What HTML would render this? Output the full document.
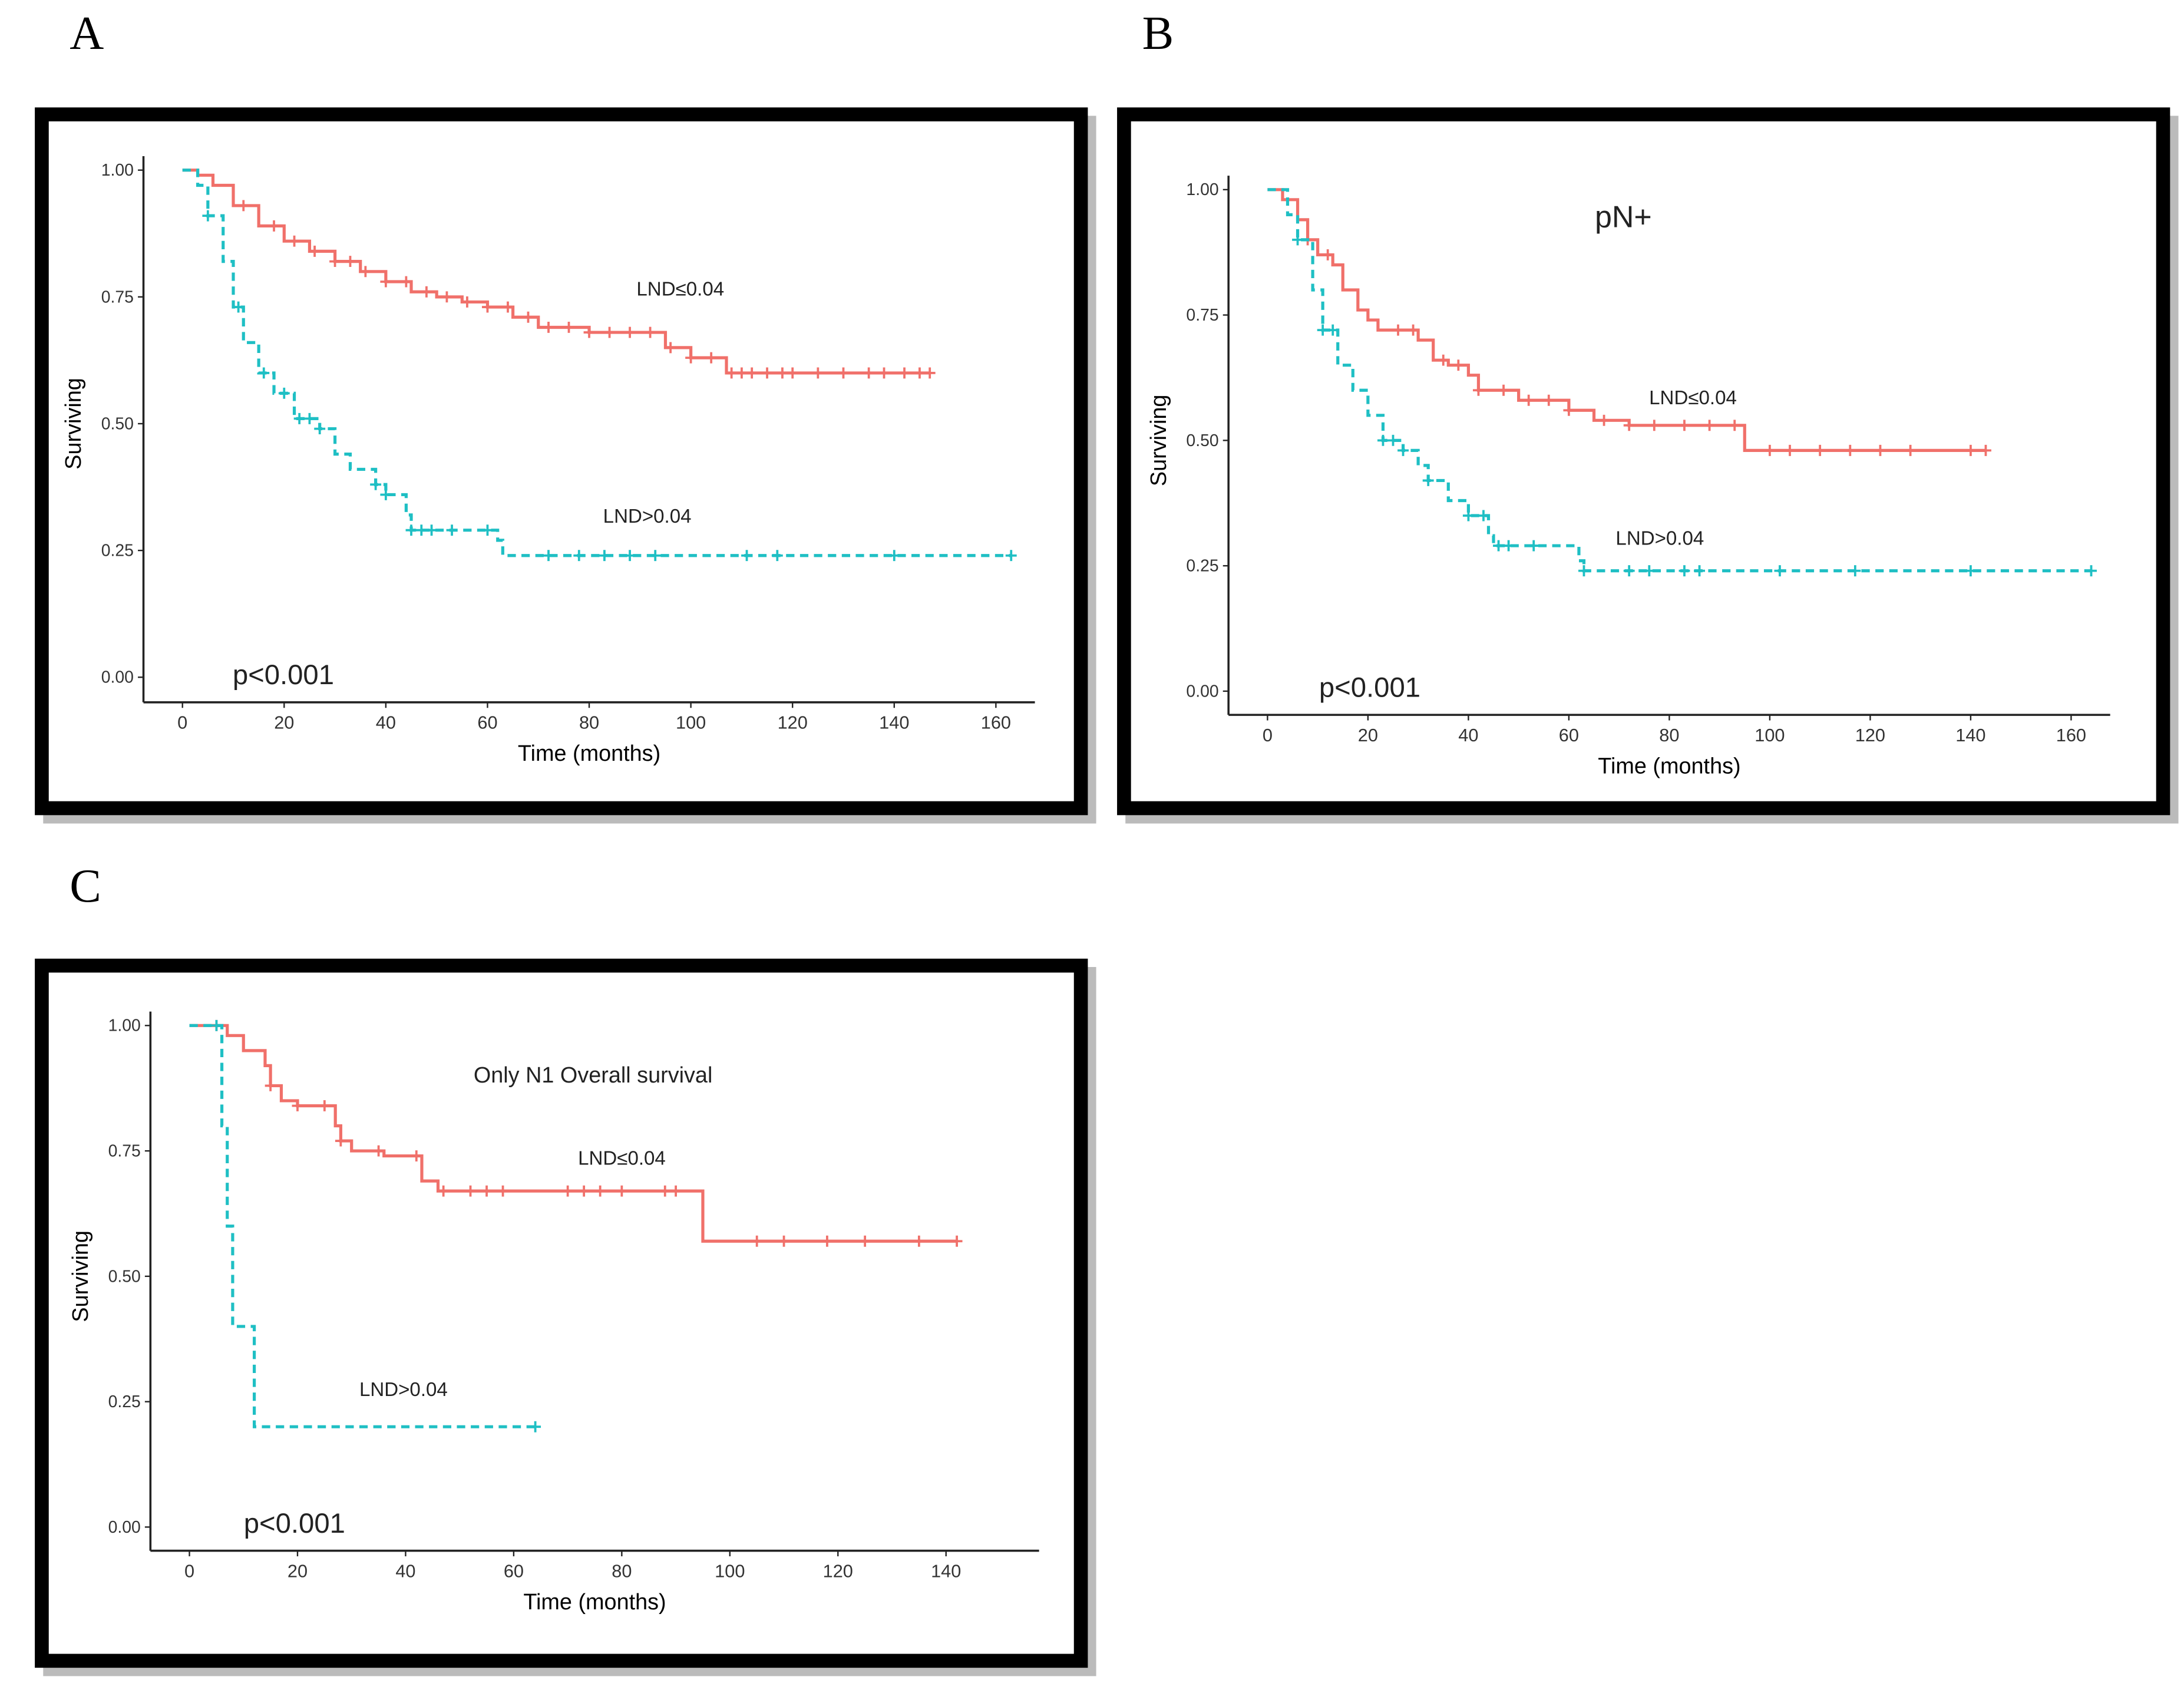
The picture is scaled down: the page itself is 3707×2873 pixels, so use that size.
<!DOCTYPE html>
<html><head><meta charset="utf-8"><style>
html,body{margin:0;padding:0;background:#fff;}
svg{display:block;}
text{font-family:"Liberation Sans",sans-serif;}
text.serif{font-family:"Liberation Serif",serif;}
</style></head><body>
<svg id="fig" width="3707" height="2873" viewBox="0 0 1568 1215" xmlns="http://www.w3.org/2000/svg">
<rect x="0" y="0" width="1568" height="1215" fill="#fff"/>
<text class="serif" x="50" y="35" font-size="34" style="font-family:'Liberation Serif',serif">A</text>
<text class="serif" x="820" y="35" font-size="34" style="font-family:'Liberation Serif',serif">B</text>
<text class="serif" x="50" y="647" font-size="34" style="font-family:'Liberation Serif',serif">C</text>
<g id="panels"></g>
</svg>
<script>
// Panel A data
const aRedT=[0,3,6,10,15,20,25,30,35,40,45,50,55,60,65,70,80,90,95,100,107,147];
const aRedS=[1,0.99,0.97,0.93,0.89,0.86,0.84,0.82,0.80,0.78,0.76,0.75,0.74,0.73,0.71,0.69,0.68,0.68,0.65,0.63,0.60,0.60];
const aRedC=[12,18,22,26,30,33,36,40,44,48,52,56,60,64,68,72,76,80,84,88,92,96,100,104,108,110,112,115,118,120,125,130,135,138,142,145,147];
const aCyT=[0,3,5,8,10,12,15,18,22,27,30,33,38,40,44,45,62,63,163];
const aCyS=[1,0.97,0.91,0.82,0.73,0.66,0.60,0.56,0.51,0.49,0.44,0.41,0.38,0.36,0.32,0.29,0.27,0.24,0.24];
const aCyC=[5,11,16,20,23,25,27,38,40,45,47,49,53,60,72,78,83,88,93,111,117,140,163];
// Panel B data
const bRedT=[0,3,6,8,10,13,15,18,20,22,30,33,36,40,42,50,60,65,72,95,143];
const bRedS=[1,0.98,0.94,0.90,0.87,0.85,0.80,0.76,0.74,0.72,0.70,0.66,0.65,0.63,0.60,0.58,0.56,0.54,0.53,0.48,0.48];
const bRedC=[8,12,26,29,35,38,42,47,52,56,60,67,72,77,83,88,93,100,104,110,116,122,128,140,143];
const bCyT=[0,4,6,9,11,14,17,20,23,27,30,32,36,40,44,45,62,63,164];
const bCyS=[1,0.95,0.90,0.80,0.72,0.65,0.60,0.55,0.50,0.48,0.45,0.42,0.38,0.35,0.31,0.29,0.26,0.24,0.24];
const bCyC=[6,11,13,23,25,27,32,40,43,46,48,53,63,72,76,83,86,102,117,140,164];
// Panel C data
const cRedT=[0,7,10,14,15,17,20,27,28,30,36,43,46,95,142];
const cRedS=[1,0.98,0.95,0.92,0.88,0.85,0.84,0.80,0.77,0.75,0.74,0.69,0.67,0.57,0.57];
const cRedC=[5,15,20,25,28,35,42,47,52,55,58,70,73,76,80,88,90,105,110,118,125,135,142];
const cCyT=[0,5,6,7,8,12,64];
const cCyS=[1,1,0.8,0.6,0.4,0.2,0.2];
const cCyC=[5,64];
const xTicksAB=[0,20,40,60,80,100,120,140,160];
const xTicksC=[0,20,40,60,80,100,120,140];
const yTicks=[0,0.25,0.5,0.75,1];

const NS="http://www.w3.org/2000/svg";
const root=document.getElementById('panels');
function el(tag,attrs,parent,txt){const e=document.createElementNS(NS,tag);for(const k in attrs)e.setAttribute(k,attrs[k]);if(txt!==undefined)e.textContent=txt;(parent||root).appendChild(e);return e;}

function panel(cfg){
  const g=el('g',{});
  
  
  const f=cfg.frame;
  const sh=el('rect',{x:f[0]+6,y:f[1]+6,width:f[2]-f[0],height:f[3]-f[1],fill:'#bbb'},g);
  
  const fr=el('rect',{x:f[0]+5,y:f[1]+5,width:f[2]-f[0]-10,height:f[3]-f[1]-10,fill:'#fff',stroke:'#000','stroke-width':10},g);
  
  const X=t=>cfg.x0+t*cfg.xs, Y=s=>cfg.y0-s*(cfg.y0-cfg.y1);
  const ax=el('line',{x1:cfg.ax,y1:cfg.y1-10,x2:cfg.ax,y2:cfg.xa,stroke:'#222','stroke-width':1.5},g);
  
  const xa=el('line',{x1:cfg.ax,y1:cfg.xa,x2:cfg.xEnd,y2:cfg.xa,stroke:'#222','stroke-width':1.5},g);
  
  yTicks.forEach(v=>{
    el('line',{x1:cfg.ax-4,y1:Y(v),x2:cfg.ax,y2:Y(v),stroke:'#222'},g);
    const t=el('text',{x:cfg.ax-7,y:Y(v)+4,'font-size':12,'text-anchor':'end',fill:'#333'},g,v.toFixed(2));
    
  });
  cfg.ticks.forEach(v=>{
    el('line',{x1:X(v),y1:cfg.xa,x2:X(v),y2:cfg.xa+4,stroke:'#222'},g);
    const t=el('text',{x:X(v),y:cfg.xa+19,'font-size':13,'text-anchor':'middle',fill:'#333'},g,String(v));
    
  });
  const xt=el('text',{x:(cfg.ax+cfg.xEnd)/2,y:cfg.xa+42,'font-size':16,'text-anchor':'middle'},g,'Time (months)');
  
  const yx=cfg.ax-45, yy=(cfg.y0+cfg.y1)/2;
  const yt=el('text',{x:yx,y:yy,'font-size':16,'text-anchor':'middle',transform:`rotate(-90 ${yx} ${yy})`},g,'Surviving');
  
  function curve(T,S,C,color,dash,name){
    let d=`M${X(T[0])},${Y(S[0])}`;
    for(let i=1;i<T.length;i++){d+=` H${X(T[i])} V${Y(S[i])}`;}
    const p=el('path',{d,fill:'none',stroke:color,'stroke-width':2.2,'stroke-dasharray':dash?'6,4':'none'},g);
    
    const sAt=t=>{let s=S[0];for(let i=0;i<T.length;i++){if(T[i]<=t)s=S[i];}return s;};
    C.forEach(t=>{
      const cx=X(t),cy=Y(sAt(t));
      const m=el('path',{d:`M${cx-4},${cy}H${cx+4}M${cx},${cy-4}V${cy+4}`,stroke:color,'stroke-width':1.6},g);
      
    });
  }
  curve(cfg.rT,cfg.rS,cfg.rC,'#f0706a',false,'curve-lnd-low');
  curve(cfg.cT,cfg.cS,cfg.cC,'#1fbfc4',true,'curve-lnd-high');
  cfg.labels.forEach(l=>{
    const t=el('text',{x:l[0],y:l[1],'font-size':l[3],fill:'#222'},g,l[2]);
    
  });
}
panel({id:'a',frame:[25,77,781,585],ax:103,xa:504,y0:486,y1:122,x0:131,xs:3.65,xEnd:743,ticks:xTicksAB,
  rT:aRedT,rS:aRedS,rC:aRedC,cT:aCyT,cS:aCyS,cC:aCyC,
  labels:[[457,212,'LND≤0.04',14,'label-lnd-low'],[433,375,'LND>0.04',14,'label-lnd-high'],[167,491,'p<0.001',20,'p-value']]});
panel({id:'b',frame:[802,77,1558,585],ax:882,xa:513,y0:496,y1:136,x0:910,xs:3.606,xEnd:1515,ticks:xTicksAB,
  rT:bRedT,rS:bRedS,rC:bRedC,cT:bCyT,cS:bCyS,cC:bCyC,
  labels:[[1184,290,'LND≤0.04',14,'label-lnd-low'],[1160,391,'LND>0.04',14,'label-lnd-high'],[947,500,'p<0.001',20,'p-value'],[1145,163,'pN+',22,'panel-title']]});
panel({id:'c',frame:[25,688,781,1197],ax:108,xa:1113,y0:1096,y1:736,x0:136,xs:3.88,xEnd:746,ticks:xTicksC,
  rT:cRedT,rS:cRedS,rC:cRedC,cT:cCyT,cS:cCyS,cC:cCyC,
  labels:[[415,836,'LND≤0.04',14,'label-lnd-low'],[258,1002,'LND>0.04',14,'label-lnd-high'],[175,1100,'p<0.001',20,'p-value'],[340,777,'Only N1  Overall survival',16,'panel-title']]});
</script>
</body></html>
